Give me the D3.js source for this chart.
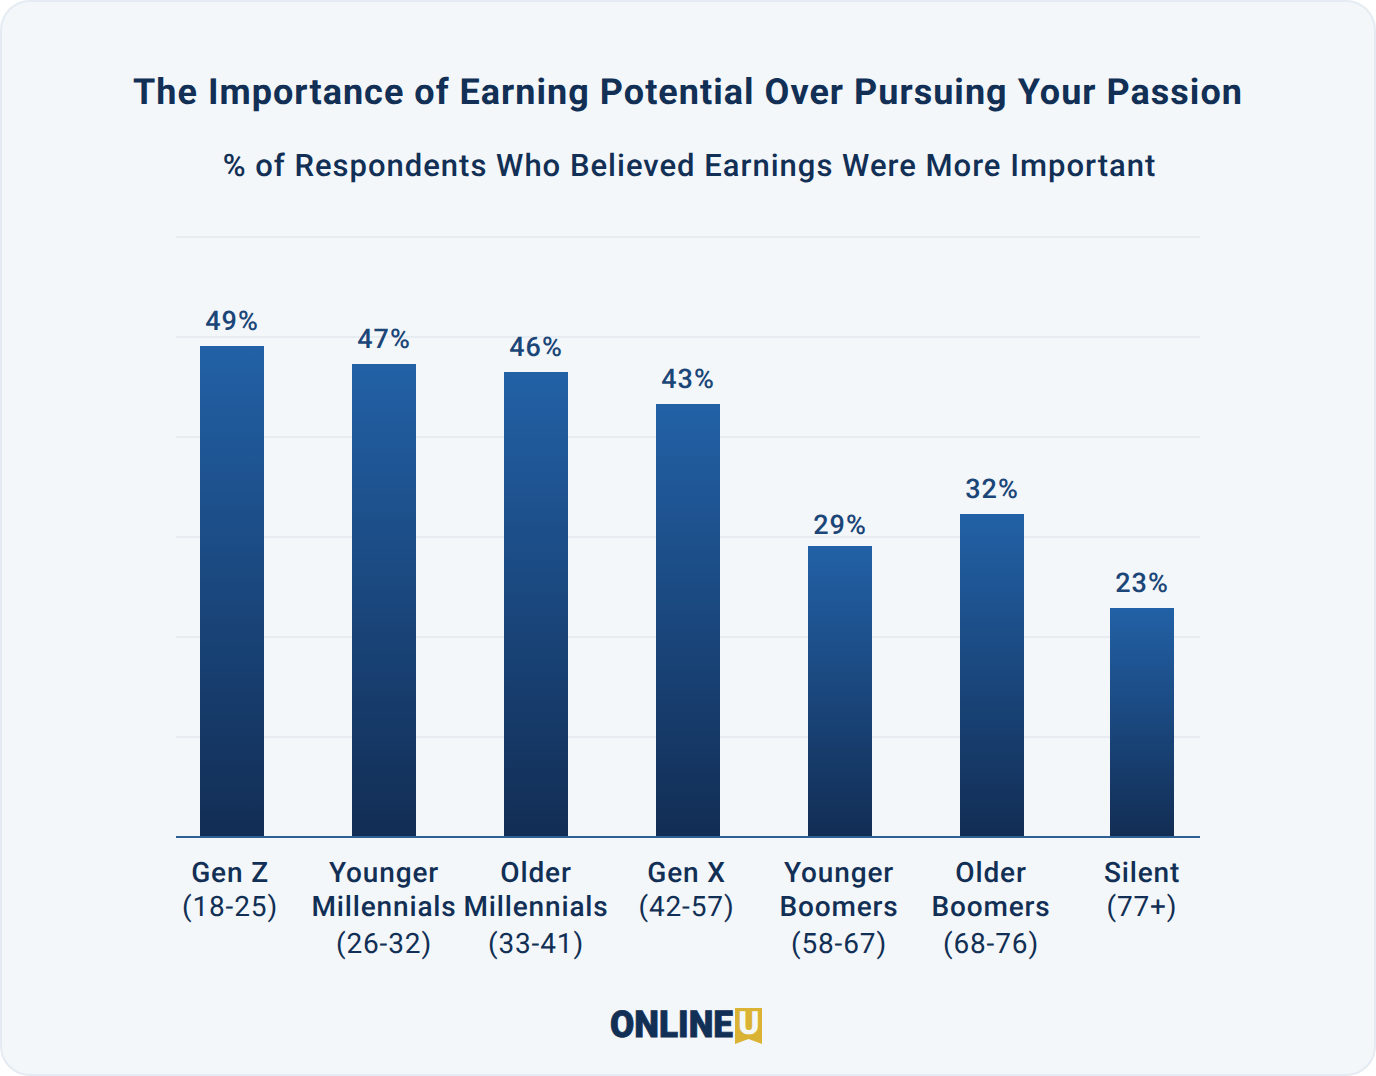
<!DOCTYPE html>
<html><head><meta charset="utf-8">
<script src="https://cdn.jsdelivr.net/npm/d3@7"></script>
<style>
html,body{margin:0;padding:0;background:#fff}
svg{display:block;font-family:Roboto,sans-serif;text-rendering:geometricPrecision}
</style></head><body>
<svg id="c" width="1376" height="1076"></svg>
<script>
const categories=[["Gen Z","(18-25)"],["Younger","Millennials","(26-32)"],["Older","Millennials","(33-41)"],["Gen X","(42-57)"],["Younger","Boomers","(58-67)"],["Older","Boomers","(68-76)"],["Silent","(77+)"]];
const values=[49.1,47.3,46.5,43.3,29.1,32.3,22.9];
const valueLabels=["49%","47%","46%","43%","29%","32%","23%"];
const yTicks=[0,10,20,30,40,50,60];
const titleText="The Importance of Earning Potential Over Pursuing Your Passion";
const subtitleText="% of Respondents Who Believed Earnings Were More Important";

const svg=d3.select("#c");
const defs=svg.append("defs");
const g=defs.append("linearGradient").attr("id","bar").attr("x1",0).attr("y1",0).attr("x2",0).attr("y2",1);
g.append("stop").attr("offset",0).attr("stop-color","#2261a6");
g.append("stop").attr("offset",1).attr("stop-color","#122d54");

svg.append("rect").attr("x",1).attr("y",1).attr("width",1374).attr("height",1074).attr("rx",29)
  .attr("fill","#f3f7fa").attr("stroke","#e5ebf2").attr("stroke-width",2);

svg.append("text").attr("x",688).attr("y",104).attr("text-anchor","middle")
  .attr("font-size",36).attr("font-weight",700).attr("letter-spacing",1.02).attr("fill","#122f55").text(titleText);
svg.append("text").attr("x",689.5).attr("y",176).attr("text-anchor","middle")
  .attr("font-size",31).attr("font-weight",500).attr("letter-spacing",1).attr("fill","#122f55").text(subtitleText);

const x=d3.scaleBand().domain(d3.range(categories.length)).range([200.3,1175.4]).paddingInner(0.57853).paddingOuter(0);
const y=d3.scaleLinear().domain([0,60]).range([837,237]);
const barX=i=>Math.min(Math.round(x(i)),1110);
const cx=i=>barX(i)+x.bandwidth()/2;

svg.append("g").selectAll("line").data(yTicks.slice(1)).join("line")
  .attr("x1",176).attr("x2",1200).attr("y1",d=>y(d)).attr("y2",d=>y(d))
  .attr("stroke","#e6ecf2").attr("stroke-width",2);

svg.append("g").selectAll("rect").data(values).join("rect")
  .attr("x",(d,i)=>barX(i)).attr("width",Math.round(x.bandwidth()))
  .attr("y",d=>Math.round(y(d))).attr("height",d=>y(0)-Math.round(y(d))).attr("fill","url(#bar)");

svg.append("line").attr("x1",176).attr("x2",1200).attr("y1",y(0)).attr("y2",y(0))
  .attr("stroke","#2f6093").attr("stroke-width",2);

svg.append("g").selectAll("text").data(values).join("text")
  .attr("x",(d,i)=>cx(i)).attr("y",(d,i)=>y(d)-16+(i===4?4:0)).attr("text-anchor","middle")
  .attr("font-size",27).attr("font-weight",500).attr("letter-spacing",1).attr("fill","#1b4677").text((d,i)=>valueLabels[i]);

const labelShift=i=>i===0?-2:i===3?-1.5:i===4||i===5?-1:0;
const lab=svg.append("g").selectAll("g").data(categories).join("g");
lab.each(function(c,i){
  const n=c.length;
  c.forEach((t,k)=>{
    const last=k===n-1;
    const yy=n===2?(k===0?882:916):[882,916,952.5][k];
    d3.select(this).append("text").attr("x",cx(i)+labelShift(i)).attr("y",yy).attr("text-anchor","middle")
      .attr("font-size",28).attr("font-weight",last?400:500).attr("letter-spacing",0.85).attr("fill","#122f55").text(t);
  });
});

// OnlineU logo
svg.append("path").attr("fill","#dbb334").attr("d","M735 1008H762V1044L748.5 1039L735 1044Z");
svg.append("text").attr("x",610).attr("y",1037).attr("font-size",37).attr("font-weight",900)
  .attr("textLength",123).attr("lengthAdjust","spacingAndGlyphs")
  .attr("fill","#122f55").attr("stroke","#122f55").attr("stroke-width",0.8).text("ONLINE");
svg.append("text").attr("x",749).attr("y",1034).attr("text-anchor","middle").attr("font-size",32).attr("font-weight",900)
  .attr("fill","#f3f7fa").text("U");
</script></body></html>
